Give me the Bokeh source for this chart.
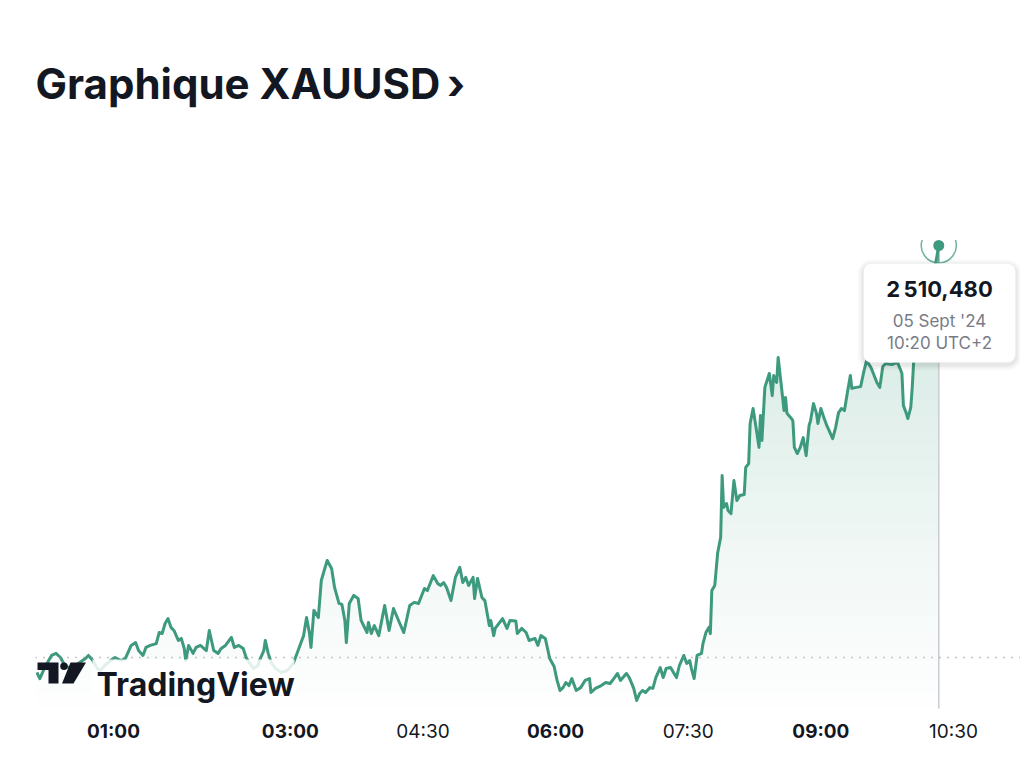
import numpy as np
from bokeh.plotting import figure
from bokeh.models import Range1d, Span, Label, BoxAnnotation
from bokeh.embed import file_html
from bokeh.resources import INLINE
from bokeh.core.properties import value

# ---------------- data (minutes after 00:00, UTC+2 ; price) ----------------
times = [8, 10, 13, 16, 18, 21, 24, 27, 31, 34, 37, 41, 43, 46, 49, 51, 54, 58, 61, 65,
         68, 72, 75, 77, 80, 82, 85, 89, 91, 93, 95, 97, 99, 101, 102, 104, 106, 108, 109, 111,
         114, 116, 119, 123, 125, 128, 131, 133, 136, 140, 142, 145, 148, 150, 152, 155, 158, 159, 162, 163,
         165, 167, 170, 174, 178, 182, 184, 186, 189, 191, 193, 194, 196, 199, 201, 205, 208, 210, 213, 215,
         217, 218, 220, 223, 226, 228, 232, 233, 235, 237, 240, 244, 247, 250, 254, 257, 261, 264, 267, 271,
         273, 277, 280, 282, 284, 286, 289, 292, 295, 297, 299, 301, 304, 305, 307, 310, 312, 315, 316, 318,
         319, 324, 327, 329, 333, 334, 337, 340, 342, 346, 348, 350, 353, 356, 359, 361, 363, 365, 367, 369,
         371, 374, 377, 380, 383, 384, 387, 391, 394, 397, 400, 402, 404, 408, 410, 413, 415, 417, 419, 421,
         424, 426, 428, 431, 433, 435, 438, 442, 444, 447, 449, 451, 452, 454, 456, 459, 460, 462, 464, 465,
         466, 468, 470, 472, 473, 474, 476, 477, 479, 481, 483, 485, 488, 489, 491, 492, 494, 496, 498, 499,
         500, 502, 505, 507, 508, 510, 511, 513, 515, 516, 517, 520, 521, 522, 524, 526, 528, 530, 532, 533,
         535, 537, 538, 540, 542, 544, 545, 548, 550, 552, 554, 556, 558, 560, 561, 564, 567, 569, 571, 574,
         578, 580, 582, 584, 588, 592, 595, 596, 598, 599, 601, 602, 603, 605, 608, 612, 615, 618, 620]

prices = [2493.90, 2493.66, 2494.05, 2494.36, 2494.56, 2494.64, 2494.48, 2494.17, 2494.05, 2494.17,
          2494.29, 2494.44, 2494.56, 2494.36, 2494.05, 2493.98, 2494.17, 2494.36, 2494.48, 2494.36,
          2494.44, 2494.95, 2495.06, 2494.75, 2494.56, 2494.87, 2494.95, 2495.02, 2495.45, 2495.41,
          2495.80, 2495.99, 2495.65, 2495.53, 2495.41, 2495.14, 2495.22, 2494.83, 2494.36, 2494.95,
          2494.64, 2494.87, 2494.95, 2494.75, 2495.53, 2494.75, 2494.64, 2494.83, 2494.95, 2495.26,
          2494.87, 2494.95, 2494.83, 2494.48, 2494.29, 2494.05, 2494.17, 2494.36, 2494.75, 2495.14,
          2494.64, 2494.29, 2494.05, 2493.90, 2493.98, 2494.25, 2494.56, 2494.87, 2495.33, 2496.03,
          2495.41, 2494.87, 2496.31, 2496.03, 2497.47, 2498.25, 2497.94, 2497.20, 2496.58, 2496.54,
          2495.92, 2495.06, 2496.58, 2496.89, 2496.77, 2495.92, 2495.45, 2495.84, 2495.41, 2495.72,
          2495.33, 2496.50, 2495.53, 2496.38, 2495.84, 2495.45, 2496.50, 2496.62, 2496.58, 2497.16,
          2497.08, 2497.66, 2497.35, 2497.28, 2497.39, 2497.20, 2496.69, 2497.59, 2497.98, 2497.39,
          2497.59, 2497.28, 2497.59, 2496.77, 2497.55, 2496.81, 2496.69, 2495.72, 2495.92, 2495.33,
          2495.61, 2495.99, 2495.61, 2495.92, 2495.90, 2495.41, 2495.61, 2495.45, 2495.14, 2495.22,
          2494.95, 2495.33, 2495.22, 2494.44, 2494.13, 2493.59, 2493.20, 2493.31, 2493.51, 2493.39,
          2493.66, 2493.20, 2493.31, 2493.59, 2493.66, 2493.12, 2493.28, 2493.39, 2493.51, 2493.47,
          2493.70, 2493.86, 2493.59, 2493.86, 2493.70, 2493.28, 2492.81, 2493.08, 2493.20, 2493.12,
          2493.31, 2493.28, 2493.70, 2494.09, 2493.70, 2494.05, 2494.09, 2493.70, 2494.17, 2494.56,
          2494.25, 2494.36, 2494.09, 2493.66, 2494.56, 2494.64, 2495.02, 2495.45, 2495.65, 2495.41,
          2497.08, 2497.28, 2498.56, 2499.14, 2501.55, 2500.31, 2500.46, 2500.19, 2500.07, 2501.35,
          2500.58, 2500.77, 2500.81, 2501.86, 2502.01, 2503.57, 2504.15, 2503.41, 2502.64, 2503.88,
          2502.91, 2504.97, 2505.51, 2504.65, 2505.43, 2505.16, 2506.13, 2505.12, 2504.07, 2504.58,
          2503.96, 2503.76, 2503.68, 2502.64, 2502.40, 2502.64, 2503.02, 2502.32, 2503.49, 2503.68,
          2504.34, 2503.96, 2503.57, 2504.15, 2503.80, 2503.49, 2503.37, 2502.98, 2503.41, 2503.99,
          2504.15, 2504.07, 2504.77, 2505.43, 2504.93, 2504.97, 2505.00, 2505.55, 2506.01, 2505.74,
          2505.16, 2504.97, 2505.78, 2505.90, 2505.86, 2505.94, 2505.51, 2504.27, 2503.96, 2503.76,
          2504.19, 2504.97, 2506.01, 2506.98, 2507.96, 2508.54, 2509.12, 2509.82, 2510.48]

prev_close = 2494.48
bold_ticks = [60, 180, 360, 540]
bold_labels = ["01:00", "03:00", "06:00", "09:00"]
light_ticks = [270, 450, 630]
light_labels = ["04:30", "07:30", "10:30"]
title_text = "Graphique XAUUSD\u2009\u203a"
tip_value = "2\u202f510,480"
tip_date = "05 Sept '24"
tip_time = "10:20 UTC+2"

assert len(times) == len(prices)
t = np.array(times, dtype=float)
pr = np.array(prices)

# ---------------- geometry (page pixels) ----------------
W, H = 1020, 760
BL = 35
FW, FH = W - BL, H
PXM = 1.4737            # px per minute
PYD = 25.75             # px per dollar
X0 = 60 - (113 - BL) / PXM
X1 = X0 + FW / PXM
Y1 = prices[-1] + 245 / PYD
Y0 = Y1 - FH / PYD

def px(sx):  # page pixel -> data x (decorations only)
    return X0 + (sx - BL) / PXM

def py(sy):  # page pixel -> data y (decorations only)
    return Y1 - sy / PYD

BASE = py(708)          # bottom of the price pane

GREEN = "#3d9a7e"
DARK = "#131722"
GREY = "#787b86"
FONT = "Inter"

p = figure(width=W, height=H, x_range=Range1d(X0, X1), y_range=Range1d(Y0, Y1),
           output_backend="svg", toolbar_location=None,
           x_axis_location=None, y_axis_location=None,
           min_border_left=BL, min_border_right=0, min_border_top=0, min_border_bottom=0)
p.outline_line_color = None
p.grid.visible = False
p.background_fill_color = "white"

# gradient area under the line (stacked bands)
nb = 30
top_lvl = pr.max()
levels = np.linspace(BASE, top_lvl, nb + 1)
for k in range(nb):
    lo, hi = levels[k], levels[k + 1]
    f = (k + 0.5) / nb
    p.varea(x=t, y1=np.full_like(pr, lo), y2=np.clip(pr, lo, hi),
            fill_color=GREEN, fill_alpha=0.008 + 0.24 * f ** 1.15)

# previous close dotted line
p.add_layout(Span(location=prev_close, dimension="width", line_color="#8a8d96",
                  line_width=1.5, line_dash="1 7"))

# crosshair
p.segment(x0=[t[-1]], y0=[pr[-1]], x1=[t[-1]], y1=[BASE], line_color="#c9ccd3", line_width=1.5)

# price line
p.line(t, pr, line_color=GREEN, line_width=3, line_join="round")

# TradingView logo
p.quad(left=[px(92)], right=[px(294)], bottom=[py(692)], top=[py(659)],
       fill_color="white", fill_alpha=0.85, line_color=None)
p.patch([px(37), px(58), px(58), px(48), px(48), px(37)],
        [py(662), py(662), py(683), py(683), py(669.5), py(669.5)],
        fill_color=DARK, line_color=None)
p.scatter([px(63.5)], [py(665.8)], size=7.5, fill_color=DARK, line_color=None)
p.patch([px(70), px(85.5), px(73), px(61.5)], [py(662), py(662), py(683), py(683)],
        fill_color=DARK, line_color=None)
p.text(x=[px(96)], y=[py(684)], text=["TradingView"], text_font=value(FONT),
       text_font_size="32px", text_font_style="bold", text_color=DARK,
       text_baseline="alphabetic", text_align="left")

# last point marker
p.segment(x0=[t[-1]], y0=[pr[-1]], x1=[t[-1]], y1=[pr[-1] - 17 / PYD], line_color=GREEN,
          line_width=1.3, line_alpha=0.8)
p.arc(x=[t[-1]], y=[pr[-1]], radius=17.5, radius_units="screen",
      start_angle=np.deg2rad(162), end_angle=np.deg2rad(378), direction="anticlock",
      line_color=GREEN, line_width=1.5, line_alpha=0.75)
p.scatter([t[-1]], [pr[-1]], size=11, fill_color=GREEN, line_color=None)

# tooltip
for d, a in [(6, 0.02), (4, 0.03), (2, 0.045)]:
    p.add_layout(BoxAnnotation(left=px(863 - d), right=px(1015 + d), top=py(263 - d + 2),
                               bottom=py(362 + d + 2), fill_color="black", fill_alpha=a,
                               line_color=None, border_radius=8 + d))
p.add_layout(BoxAnnotation(left=px(863), right=px(1015), top=py(263), bottom=py(362),
                           fill_color="white", fill_alpha=1.0, line_color="#e6e8ee",
                           line_width=1, border_radius=8))
p.add_layout(Label(x=px(939), y=py(288), text=tip_value, text_font=FONT, text_font_size="22px",
                   text_font_style="bold", text_color=DARK, text_align="center",
                   text_baseline="middle"))
p.add_layout(Label(x=px(939), y=py(320), text=tip_date, text_font=FONT, text_font_size="17px",
                   text_color=GREY, text_align="center", text_baseline="middle"))
p.add_layout(Label(x=px(939), y=py(342.5), text=tip_time, text_font=FONT, text_font_size="17px",
                   text_color=GREY, text_align="center", text_baseline="middle"))

# title
p.add_layout(Label(x=px(35), y=py(83), text=title_text, text_font=FONT, text_font_size="42px",
                   text_font_style="bold", text_color=DARK, text_align="left",
                   text_baseline="alphabetic"))

# time axis labels (bold for full hours, regular for half hours)
p.text(x=bold_ticks, y=[py(731)] * len(bold_ticks), text=bold_labels, text_font=value(FONT),
       text_font_size="19px", text_font_style="bold", text_color=DARK,
       text_align="center", text_baseline="middle")
p.text(x=light_ticks, y=[py(731)] * len(light_ticks), text=light_labels, text_font=value(FONT),
       text_font_size="19px", text_font_style="normal", text_color=DARK,
       text_align="center", text_baseline="middle")

open("out.html", "w").write(file_html(p, INLINE))
